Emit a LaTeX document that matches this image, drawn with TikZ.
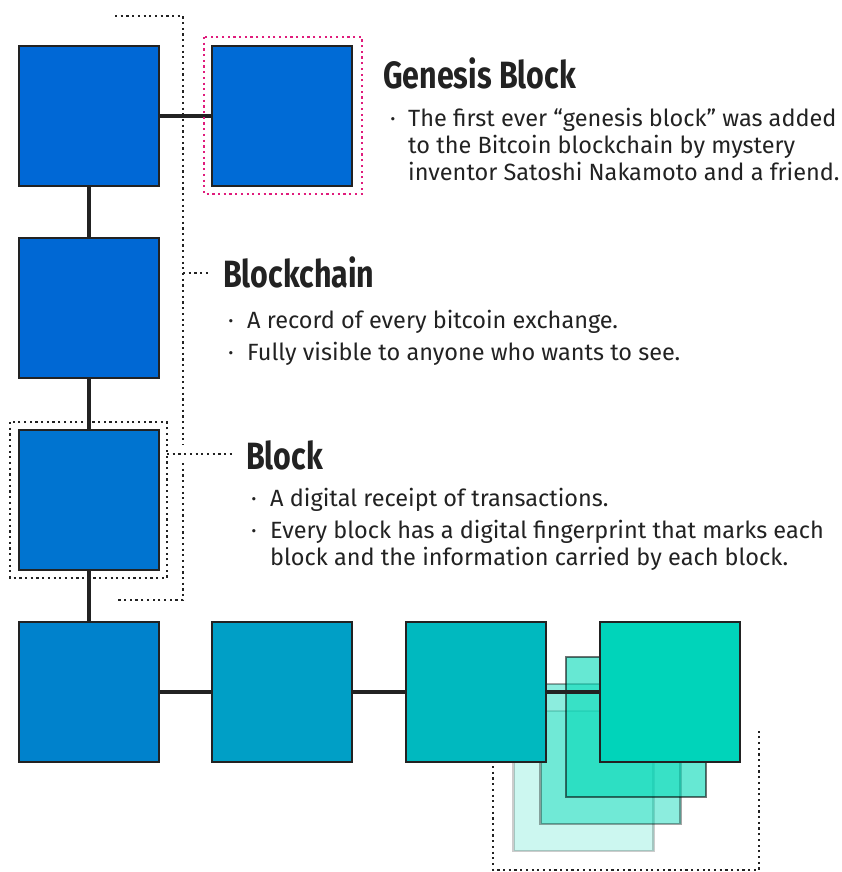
\documentclass[tikz,border=0pt]{standalone}
\usepackage{fontspec}
\setmainfont{Fira Sans}
\newfontfamily\headfont[FakeStretch=0.8]{Fira Sans}
\usetikzlibrary{positioning}

\definecolor{ink}{HTML}{222222}
\definecolor{pink}{HTML}{E01C7C}
\definecolor{mint}{HTML}{00D8B6}

\begin{document}
\begin{tikzpicture}[x=1pt, y=-1pt, node distance=53pt,
    blk/.style={draw=ink, line width=2.5pt, minimum size=140pt, inner sep=0pt, outer sep=0pt},
    ghost/.style={draw=black, line width=2.5pt, minimum size=140pt, inner sep=0pt, fill=mint},
    link/.style={draw=ink, line width=3.5pt},
    dots/.style={draw=ink, line width=2.2pt, dash pattern=on 2.2pt off 3.5pt},
    head/.style={anchor=base west, inner sep=0pt, text=ink,
        font=\headfont\bfseries\fontsize{38}{40}\selectfont},
    txt/.style={anchor=base west, inner sep=0pt, text=ink, align=left,
        font=\fontsize{23.5}{27}\selectfont},
    ]
    \useasboundingbox (0,0) rectangle (842,872);

    % ghost blocks behind the last one
    \node[ghost, fill opacity=0.2, draw opacity=0.2]   (gC) at (583.5,781) {};
    \node[ghost, fill opacity=0.45, draw opacity=0.35] (gB) at (610.5,754) {};
    \node[ghost, fill opacity=0.6, draw opacity=0.55]  (gA) at (636,727) {};

    % the chain
    \node[blk, fill={rgb,255:red,0;green,104;blue,214}] (b1) at (89,116) {};
    \node[blk, fill={rgb,255:red,0;green,107;blue,214}, right=of b1] (gen) {};
    \node[blk, fill={rgb,255:red,0;green,104;blue,212}, below=52pt of b1] (chain) {};
    \node[blk, fill={rgb,255:red,0;green,116;blue,208}, below=52pt of chain] (blk) {};
    \node[blk, fill={rgb,255:red,0;green,130;blue,204}, below=52pt of blk] (r1) {};
    \node[blk, fill={rgb,255:red,0;green,159;blue,198}, right=of r1] (r2) {};
    \node[blk, fill={rgb,255:red,0;green,185;blue,191}, right=54pt of r2] (r3) {};

    \draw[link] (b1) -- (gen);
    \draw[link] (b1) -- (chain);
    \draw[link] (chain) -- (blk);
    \draw[link] (blk) -- (r1);
    \draw[link] (r1) -- (r2);
    \draw[link] (r2) -- (r3);
    \draw[link] (r3.east) -- ++(54,0) coordinate (r4w);
    \node[blk, fill={rgb,255:red,0;green,212;blue,186}, anchor=west] (r4) at (r4w) {};

    % dotted markers
    \draw[dots, draw=pink] (204,37) rectangle (362,194);
    \draw[dots] (10,422) rectangle (167,578);
    \draw[dots] (115,16) -- (183,16) -- (183,444);
    \draw[dots] (183,463) -- (183,600) -- (115,600);
    \draw[dots] (183,273) -- (210,273);
    \draw[dots] (167,454) -- (232,454);
    \draw[dots] (493,766) -- (493,870) -- (759,870) -- (759,730);

    % Genesis Block
    \node[head] (hgen) at (383,89) {Genesis Block};
    \node[txt] (dgen) at (390,126) {·};
    \node[txt] (tgen) at (408,180) {The first ever “genesis block” was added\\to the Bitcoin blockchain by mystery\\inventor Satoshi Nakamoto and a friend.};

    % Blockchain
    \node[head] (hchain) at (223,287) {Blockchain};
    \node[txt] (dchain1) at (228,328) {·};
    \node[txt] (tchain1) at (247,328) {A record of every bitcoin exchange.};
    \node[txt] (dchain2) at (228,360) {·};
    \node[txt] (tchain2) at (247,360) {Fully visible to anyone who wants to see.};

    % Block
    \node[head] (hblk) at (246,469) {Block};
    \node[txt] (dblk1) at (251,506) {·};
    \node[txt] (tblk1) at (270,506) {A digital receipt of transactions.};
    \node[txt] (dblk2) at (251,538) {·};
    \node[txt] (tblk2) at (270,565) {Every block has a digital fingerprint that marks each\\block and the information carried by each block.};
\end{tikzpicture}
\end{document}
